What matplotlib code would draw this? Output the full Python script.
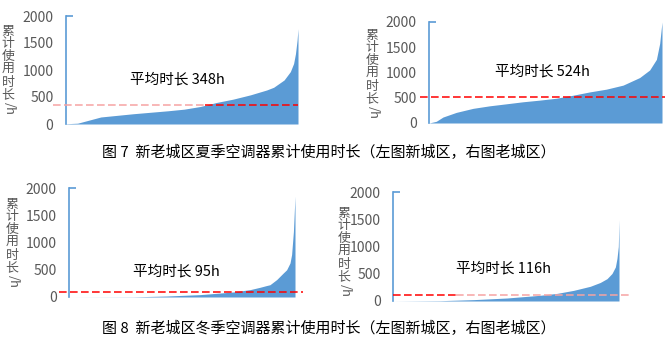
import matplotlib
matplotlib.use("Agg")
import matplotlib.pyplot as plt

plt.rcParams["font.family"] = ["Noto Sans CJK SC", "DejaVu Sans"]

BLUE = "#5B9BD5"
GREY = "#595959"
RED = "#FF0000"
PINK = "#F6A3A3"

# sorted cumulative run time per household, sampled along the rank (% of households)
summer_new_rank  = [0, 5, 15, 29, 44, 51, 58, 65, 72, 79.5, 86.5, 89.5, 94, 96.7, 98.1, 98.9, 99.6, 100]
summer_new_hours = [5, 15, 130, 190, 245, 275, 325, 400, 460, 540, 630, 680, 815, 970, 1120, 1300, 1550, 1765]

summer_old_rank  = [0, 3.1, 6.0, 11.7, 18.9, 26.0, 33.2, 40.3, 47.5, 54.6, 61.8, 68.9, 76.1, 83.3, 90.4, 94.7, 97.6, 99.0, 100]
summer_old_hours = [0, 33, 118, 210, 290, 340, 380, 420, 453, 490, 550, 615, 670, 750, 900, 1050, 1260, 1575, 2000]

winter_new_rank  = [0, 28.4, 43.1, 57.9, 72.7, 80.1, 84.5, 87.4, 88.9, 91.9, 94.8, 96.3, 97.8, 98.5, 99.3, 100]
winter_new_hours = [0, 3, 18, 43, 92, 135, 178, 210, 225, 320, 440, 500, 625, 780, 1200, 1850]

winter_old_rank  = [0, 20.9, 35.7, 50.4, 65.2, 72.6, 79.9, 87.3, 91.7, 94.7, 96.9, 98.4, 99.1, 99.7, 100]
winter_old_hours = [0, 6, 25, 55, 105, 140, 195, 270, 340, 410, 505, 625, 780, 1000, 1490]

MEANS = [348, 524, 95, 116]
Y_TICKS = [0, 500, 1000, 1500, 2000]
YLABEL = "累计使用时长"
CAPTIONS = ["图 7  新老城区夏季空调器累计使用时长（左图新城区，右图老城区）",
            "图 8  新老城区冬季空调器累计使用时长（左图新城区，右图老城区）"]

W, H = 667, 344
fig = plt.figure(figsize=(W / 100, H / 100), dpi=100)


def px_axes(left, right, top, bottom):
    return fig.add_axes([left / W, 1 - bottom / H, (right - left) / W, (bottom - top) / H])


# panel boxes in pixels: left, right, y of 2000, y of 0
panels = [
    dict(box=(66, 298, 16, 124), rank=summer_new_rank, hours=summer_new_hours,
         line=[(-0.056, 0.6, PINK), (0.6, 1.0, RED)], text=(0.478, 0.41), lab=(8, 31)),
    dict(box=(429, 662, 22, 123), rank=summer_old_rank, hours=summer_old_hours,
         line=[(-0.039, 1.013, RED)], text=(0.489, 0.515), lab=(372, 35)),
    dict(box=(69, 295, 188, 297), rank=winter_new_rank, hours=winter_new_hours,
         line=[(-0.044, 1.035, RED)], text=(0.473, 0.23), lab=(12, 204)),
    dict(box=(393, 619, 192, 301), rank=winter_old_rank, hours=winter_old_hours,
         line=[(0.0, 0.28, RED), (0.28, 1.044, PINK)], text=(0.487, 0.295), lab=(344, 213)),
]

for p, mean in zip(panels, MEANS):
    ax = px_axes(*p["box"])
    ax.fill_between(p["rank"], 0, p["hours"], color=BLUE, linewidth=0)
    ax.set_xlim(0, 100)
    ax.set_ylim(0, 2000)
    ax.set_yticks(Y_TICKS)
    ax.set_xticks([])
    ax.tick_params(axis="y", length=0, pad=9, labelsize=10, labelcolor=GREY)
    # small inward tick capping the top of the axis
    ax.yaxis.remove_overlapping_locs = False
    ax.set_yticks([2000], minor=True)
    ax.tick_params(axis="y", which="minor", direction="in", length=5, color=BLUE, width=1.2)
    for s in ("top", "right", "bottom"):
        ax.spines[s].set_visible(False)
    ax.spines["left"].set_color(BLUE)
    ax.spines["left"].set_linewidth(1.2)
    ax.patch.set_alpha(0)

    # mean line, running a little past the plot area
    for x0, x1, c in p["line"]:
        ax.axhline(mean, xmin=x0, xmax=x1, color=c, linewidth=1.1,
                   dashes=(5, 2.2), clip_on=False, zorder=3)

    ax.text(*p["text"], f"平均时长 {mean}h", transform=ax.transAxes,
            ha="center", va="center", fontsize=10.5, color="black")

    # vertical axis title, one character per line
    lx, ly = p["lab"]
    step = 12.8
    for i, ch in enumerate(YLABEL):
        fig.text(lx / W, 1 - (ly + i * step) / H, ch, ha="center", va="center",
                 fontsize=9.3, color=GREY)
    fig.text((lx + 1) / W, 1 - (ly + len(YLABEL) * step + 1) / H, "/h", ha="center",
             va="center", rotation=-90, fontsize=9.3, color=GREY)

fig.text(329 / W, 1 - 152 / H, CAPTIONS[0], ha="center", va="center", fontsize=10.8)
fig.text(329 / W, 1 - 328 / H, CAPTIONS[1], ha="center", va="center", fontsize=10.8)

fig.savefig("out.png", dpi=100)
